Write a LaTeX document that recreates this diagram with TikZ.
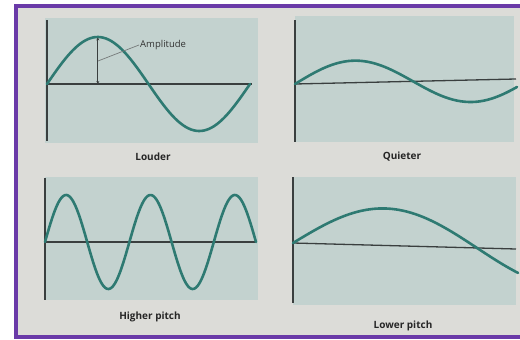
\documentclass[tikz,border=0pt]{standalone}
\usepackage{fontspec}
\setmainfont{Open Sans}
\usetikzlibrary{arrows.meta}
\definecolor{paper}{HTML}{DCDCD8}
\definecolor{panel}{HTML}{C3D2CF}
\definecolor{wave}{HTML}{2E7A72}
\definecolor{axisc}{HTML}{3A3F3F}
\definecolor{frame}{HTML}{6A3AA8}
\tikzset{
  panelbox/.style={fill=panel, draw=none},
  axisline/.style={draw=axisc, line width=1.3pt},
  waveline/.style={draw=wave, line width=2.6pt, line cap=round},
  caption/.style={font=\fontsize{10}{12}\selectfont\bfseries, text=black!85, inner sep=0pt},
}
\begin{document}
\begin{tikzpicture}[x=1pt, y=-1pt]
\useasboundingbox (0,0) rectangle (520,340);
\fill[white] (0,0) rectangle (520,340);
\fill[paper] (16,6) rectangle (520,337);
% frame
\draw[frame, line width=3.5pt] (520,6) -- (16,6) -- (16,337) -- (520,337);
% panels
\fill[panelbox] (45,18) rectangle (258,143);
\fill[panelbox] (295,16) rectangle (514,142);
\fill[panelbox] (45,177) rectangle (258,300);
\fill[panelbox] (293,177) rectangle (516,305);

% Panel 1: Louder
\coordinate (a1t) at (47,20); \coordinate (a1b) at (47,141);
\coordinate (h1l) at (47,84); \coordinate (h1r) at (252,84);
\draw[axisline] (a1t) -- (a1b);
\draw[axisline] (h1l) -- (h1r);
\draw[waveline] plot[domain=0:203, samples=80, smooth] ({47+\x}, {84-47*sin(\x/203*360)});
\coordinate (pk) at (97.8,37.5); \coordinate (pb) at (97.8,84);
\draw[axisc, line width=0.9pt, {Stealth[length=3pt,width=3pt]}-{Stealth[length=3pt,width=3pt]}] (pk) -- (pb);
\node[font=\fontsize{9.5}{11}\selectfont, text=black!80, anchor=west, inner sep=0pt] (amp) at (140,45) {Amplitude};
\coordinate (lead) at (98,61);
\draw[axisc!70, line width=0.7pt] (lead) -- ([xshift=-1pt]amp.west);
\node[caption] (c1) at (153,157) {Louder};

% Panel 2: Quieter
\coordinate (a2t) at (295,20); \coordinate (a2b) at (295,142);
\coordinate (h2l) at (295,84); \coordinate (h2r) at (516,79);
\draw[axisline] (a2t) -- (a2b);
\draw[axisline] (h2l) -- (h2r);
\draw[waveline] plot[domain=0:222, samples=80, smooth] ({295+\x}, {84-5*\x/221-22*sin(\x/236*360)});
\node[caption] (c2) at (402,157) {Quieter};

% Panel 3: Higher pitch
\coordinate (a3t) at (45,178); \coordinate (a3b) at (45,300);
\coordinate (h3l) at (45,242); \coordinate (h3r) at (256,242);
\draw[axisline] (a3t) -- (a3b);
\draw[axisline] (h3l) -- (h3r);
\draw[waveline] plot[domain=0:211, samples=160, smooth] ({45+\x}, {242-47*sin(\x/84.4*360)});
\node[caption] (c3) at (150,317) {Higher pitch};

% Panel 4: Lower pitch
\coordinate (a4t) at (293,177); \coordinate (a4b) at (293,303);
\coordinate (h4l) at (293,243); \coordinate (h4r) at (516,249);
\draw[axisline] (a4t) -- (a4b);
\draw[axisline] (h4l) -- (h4r);
\draw[waveline] plot[domain=0:225, samples=80, smooth] ({293+\x}, {243+6*\x/223-37*sin(\x/184*180)});
\node[caption] (c4) at (403,326) {Lower pitch};
\end{tikzpicture}
\end{document}
